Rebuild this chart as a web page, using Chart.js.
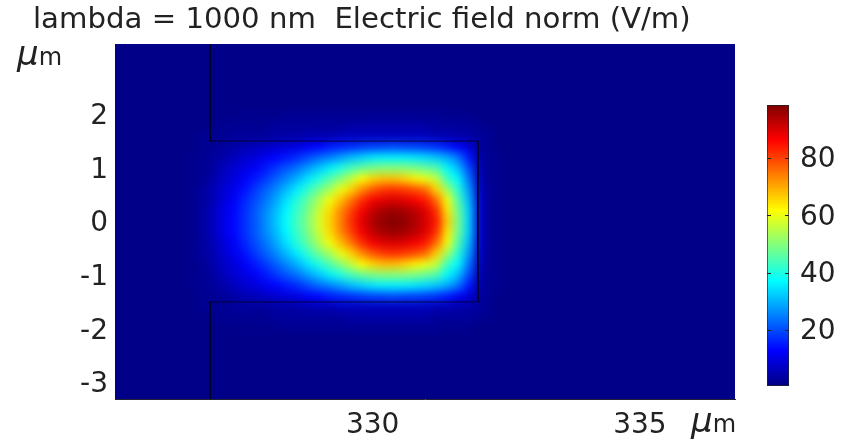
<!DOCTYPE html>
<html>
<head>
<meta charset="utf-8">
<title>Electric field norm</title>
<script src="https://cdn.jsdelivr.net/npm/chart.js@4/dist/chart.umd.js"></script>
<style>
    html, body { margin: 0; background: #fff; }
    #field { position: absolute; left: 0; top: 0; }
    #colorbar { position: absolute; left: 767px; top: 95px; }
    .unit { position: absolute; font-family: "DejaVu Sans", sans-serif; font-size: 24px; color: #222; line-height: 30px; }
    .unit i { font-size: 34px; }
</style>
</head>
<body>
<canvas id="field" width="846" height="443"></canvas>
<canvas id="colorbar" width="79" height="300"></canvas>
<div class="unit" style="left: 17px; top: 38px;"><i>μ</i>m</div>
<div class="unit" style="left: 691px; top: 405px;"><i>μ</i>m</div>
<script>
const titleText = 'lambda = 1000 nm  Electric field norm (V/m)';
const xTicks = [330, 335];
const yTicks = [2, 1, 0, -1, -2, -3];
const colorbarTicks = [20, 40, 60, 80];
const xRange = [325.18, 336.78];
const yRange = [-3.31, 3.31];
const normRange = [0.5, 98.5];

// waveguide outline
const boundaryX = [326.96, 326.96, 331.97, 331.97, 326.96, 326.96];
const boundaryY = [3.31, 1.5, 1.5, -1.5, -1.5, -3.31];

// field norm, columns are fieldX, rows are y = 0 to 2 (mirrored below 0)
const fieldX = [326.6, 326.8, 327, 327.2, 327.4, 327.6, 327.8, 328, 328.2, 328.4, 328.6, 328.8, 329, 329.2, 329.4,
    329.6, 329.8, 330, 330.2, 330.4, 330.6, 330.8, 331, 331.2, 331.4, 331.6, 331.8, 332, 332.2, 332.4];
const fieldY = [0, 0.2, 0.4, 0.6, 0.8, 1, 1.2, 1.4, 1.6, 1.8, 2];
const fieldRows = [
    [1.5, 3, 6, 10, 13, 17, 21, 26, 32, 38, 44, 50, 58, 66, 74, 82, 89, 94, 97, 98, 97, 94, 90, 84, 67, 49, 33, 8, 2, 1.5],
    [1.5, 3, 6, 10, 13, 17, 21, 26, 31, 37, 43, 49, 57, 65, 73, 80, 87, 92, 95, 96, 95, 93, 89, 82, 64, 48, 33, 8, 2, 1.5],
    [1.5, 3, 5, 9, 12, 16, 20, 24, 29, 35, 41, 47, 54, 61, 68, 75, 82, 87, 89, 90, 89, 87, 84, 76, 61, 45, 31, 8, 2, 1.5],
    [1.5, 3, 5, 8, 11, 14, 18, 22, 26, 31, 36, 42, 48, 53, 60, 66, 73, 78, 81, 82, 81, 79, 76, 66, 53, 41, 28, 7, 2, 1.5],
    [1.5, 2, 4, 7, 9, 12, 15, 18, 22, 26, 30, 35, 40, 45, 50, 56, 62, 66, 68, 68, 66, 63, 60, 56, 43, 37, 24, 6, 2, 1.5],
    [1.5, 2, 3, 6, 8, 10, 12, 15, 18, 21, 24, 28, 32, 36, 40, 44, 47, 49, 50, 50, 50, 49, 47, 45, 37, 31, 20, 5, 2, 1.5],
    [1.5, 2, 3, 4, 6, 8, 9, 11, 13, 15, 17, 20, 23, 25, 28, 31, 33, 35, 36, 36, 36, 35, 34, 32, 29, 24, 15, 4, 2, 1.5],
    [1, 2, 2, 3, 4, 5, 6, 7, 8, 9, 10, 12, 13, 15, 16, 17, 18, 19, 19, 20, 19, 19, 18, 17, 15, 12, 9, 3, 2, 1],
    [1, 2, 2, 2, 3, 3, 3, 3, 4, 4, 4, 5, 5, 5, 6, 6, 6, 6, 6, 6, 6, 6, 6, 5, 5, 4, 4, 3, 2, 1],
    [1, 1, 1.5, 2, 2, 2, 2, 2, 3, 3, 3, 3, 3, 3, 3, 4, 4, 4, 4, 4, 4, 4, 4, 3, 3, 3, 3, 2, 1.5, 1],
    [1, 1, 1, 1, 1.5, 1.5, 1.5, 1.5, 1.5, 2, 2, 2, 2, 2, 2, 2, 2, 2, 2, 2, 2, 2, 2, 2, 1.5, 1.5, 1.5, 1, 1, 1],
];

const jetStops = [[0, 0, 0, 131], [0.125, 0, 0, 255], [0.375, 0, 255, 255], [0.625, 255, 255, 0], [0.875, 255, 0, 0], [1, 128, 0, 0]];

const fontFamily = '"DejaVu Sans", sans-serif';
const textColor = '#222';

function jet(value) {
    const t = Math.min(1, Math.max(0, (value - normRange[0]) / (normRange[1] - normRange[0])));
    let i = 0;
    while (i < jetStops.length - 2 && t > jetStops[i + 1][0]) i++;
    const a = jetStops[i], b = jetStops[i + 1];
    const f = (t - a[0]) / (b[0] - a[0]);
    const c = [1, 2, 3].map(k => Math.round(a[k] + (b[k] - a[k]) * f));
    return `rgb(${c[0]},${c[1]},${c[2]})`;
}

const cells = [];
fieldRows.forEach((row, r) => {
    row.forEach((v, c) => {
        cells.push({ x: fieldX[c], y: fieldY[r], v: v });
        if (r > 0) cells.push({ x: fieldX[c], y: -fieldY[r], v: v });
    });
});

// soft shading: fill the plot, then blur the cells the chart has just drawn
const fieldShading = {
    id: 'fieldShading',
    beforeDatasetsDraw(chart) {
        const a = chart.chartArea;
        chart.ctx.fillStyle = jet(1);
        chart.ctx.fillRect(a.left, a.top, a.width, a.height);
    },
    afterDatasetDraw(chart, args) {
        if (args.index !== 1) return;
        const a = chart.chartArea, ctx = chart.ctx;
        ctx.save();
        ctx.beginPath();
        ctx.rect(a.left, a.top, a.width, a.height);
        ctx.clip();
        ctx.filter = 'blur(4px)';
        ctx.drawImage(chart.canvas, a.left, a.top, a.width, a.height, a.left, a.top, a.width, a.height);
        ctx.restore();
    },
};

new Chart(document.getElementById('field'), {
    type: 'scatter',
    data: {
        datasets: [{
            data: boundaryX.map((x, i) => ({ x: x, y: boundaryY[i] })),
            showLine: true,
            borderColor: 'rgba(0,0,20,0.75)',
            borderWidth: 1,
            pointRadius: 0,
        }, {
            data: cells,
            pointStyle: 'rect',
            pointRadius: 8,
            pointBorderWidth: 0,
            pointBackgroundColor: ctx => jet(ctx.raw.v),
        }],
    },
    options: {
        responsive: false,
        animation: false,
        events: [],
        layout: { padding: { left: 33, right: 111, top: 0, bottom: 0 } },
        scales: {
            x: {
                type: 'linear',
                min: xRange[0],
                max: xRange[1],
                afterBuildTicks: scale => { scale.ticks = xTicks.map(v => ({ value: v })); },
                afterFit: scale => { scale.height = 44; },
                grid: { display: false, drawTicks: false },
                border: { color: '#223' },
                ticks: {
                    color: textColor,
                    font: { family: fontFamily, size: 28 },
                    padding: 10,
                    maxRotation: 0,
                    callback: v => String(v),
                },
            },
            y: {
                type: 'linear',
                min: yRange[0],
                max: yRange[1],
                afterBuildTicks: scale => { scale.ticks = yTicks.map(v => ({ value: v })); },
                afterFit: scale => { scale.width = 82; },
                grid: { display: false, drawTicks: false },
                border: { color: '#223' },
                ticks: {
                    color: textColor,
                    font: { family: fontFamily, size: 28 },
                    padding: 7,
                    labelOffset: 2.5,
                    callback: v => String(v),
                },
            },
        },
        plugins: {
            legend: { display: false },
            tooltip: { enabled: false },
            title: {
                display: true,
                text: titleText,
                align: 'start',
                color: textColor,
                font: { family: fontFamily, size: 29.2, weight: 'normal', lineHeight: 1.2 },
                padding: { top: 3, bottom: 6 },
            },
        },
    },
    plugins: [fieldShading],
});

// ramp of the colour bar, taken from the same jet stops through the bar's own axis
function rampFill(ctx) {
    const chart = ctx.chart;
    if (!chart.chartArea) return jet(normRange[0]);
    const y = chart.scales.y;
    const ramp = chart.ctx.createLinearGradient(0, y.getPixelForValue(normRange[0]), 0, y.getPixelForValue(normRange[1]));
    jetStops.forEach(s => {
        ramp.addColorStop(s[0], `rgb(${s[1]},${s[2]},${s[3]})`);
    });
    return ramp;
}

const colorbarMarks = {
    id: 'colorbarMarks',
    afterDatasetsDraw(chart) {
        const a = chart.chartArea, ctx = chart.ctx, y = chart.scales.y;
        ctx.save();
        ctx.strokeStyle = '#222';
        y.ticks.forEach(t => {
            const p = Math.round(y.getPixelForValue(t.value)) + 0.5;
            ctx.beginPath();
            ctx.moveTo(a.left, p);
            ctx.lineTo(a.left + 4, p);
            ctx.moveTo(a.right - 4, p);
            ctx.lineTo(a.right, p);
            ctx.stroke();
        });
        ctx.restore();
    },
};

new Chart(document.getElementById('colorbar'), {
    type: 'bar',
    data: {
        labels: ['norm'],
        datasets: [{
            data: [normRange],
            backgroundColor: rampFill,
            borderColor: '#222',
            borderWidth: 1,
            borderSkipped: false,
            barPercentage: 1,
            categoryPercentage: 1,
        }],
    },
    options: {
        responsive: false,
        animation: false,
        events: [],
        layout: { autoPadding: false, padding: { top: 10, bottom: 9 } },
        scales: {
            x: { display: false },
            y: {
                position: 'right',
                min: normRange[0],
                max: normRange[1],
                afterBuildTicks: scale => { scale.ticks = colorbarTicks.map(v => ({ value: v })); },
                afterFit: scale => {
                    scale.width = 57;
                    scale.paddingTop = 0;
                    scale.paddingBottom = 0;
                },
                grid: { display: false, drawTicks: false },
                border: { display: false },
                ticks: {
                    color: textColor,
                    font: { family: fontFamily, size: 28 },
                    padding: 11,
                    labelOffset: 2,
                },
            },
        },
        plugins: {
            legend: { display: false },
            tooltip: { enabled: false },
        },
    },
    plugins: [colorbarMarks],
});
</script>
</body>
</html>
